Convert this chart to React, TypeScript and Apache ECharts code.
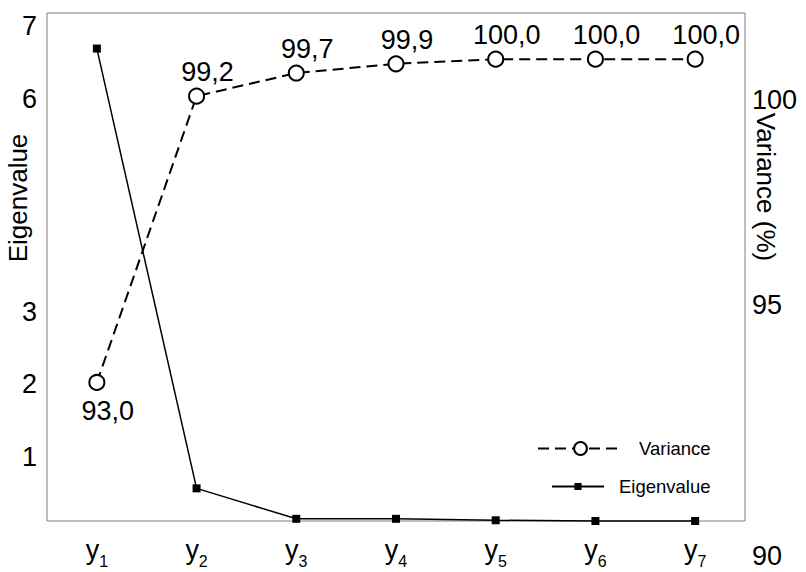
import React, { useEffect, useRef } from 'react';
import * as echarts from 'echarts';

const categories = ['y1', 'y2', 'y3', 'y4', 'y5', 'y6', 'y7'];
const varianceValues = [93.0, 99.2, 99.7, 99.9, 100.0, 100.0, 100.0];
const eigenValues = [6.51, 0.45, 0.03, 0.03, 0.01, 0.0, 0.0];
const eigenTickLabels = [1, 2, 3, 6, 7];
const varianceTickLabels = [90, 95, 100];

const FONT = "'Liberation Sans', Arial, Helvetica, sans-serif";

export default function App() {
  const ref = useRef<HTMLDivElement>(null);
  useEffect(() => {
    const chart = echarts.init(ref.current!, null, { renderer: 'svg' });
    const option: any = {
      animation: false,
      backgroundColor: '#fff',
      textStyle: { fontFamily: FONT, color: '#000' },
      grid: {
        left: 47, right: 61, top: 13, bottom: 51,
        containLabel: false,
        outerBoundsMode: 'none',
        show: true, borderColor: '#808080', borderWidth: 1,
      },
      legend: [
        {
          data: ['Variance'], left: 532, top: 434, itemWidth: 85, itemHeight: 16,
          selectedMode: false,
          textStyle: { fontSize: 18.5, color: '#000', fontFamily: FONT, padding: [0, 0, 0, 11] },
        },
        {
          data: ['Eigenvalue'], left: 546, top: 472, itemWidth: 52, itemHeight: 9,
          selectedMode: false,
          textStyle: { fontSize: 18.5, color: '#000', fontFamily: FONT, padding: [0, 0, 0, 10] },
        },
      ],
      xAxis: {
        type: 'category',
        data: categories,
        boundaryGap: true,
        axisLine: { show: false },
        axisTick: { show: false },
        axisLabel: {
          interval: 0,
          margin: 10,
          formatter: (v: string) => `{m|${v.slice(0, 1)}}{s|${v.slice(1)}}`,
          rich: {
            m: { fontSize: 27, fontFamily: FONT, color: '#000' },
            s: { fontSize: 16, fontFamily: FONT, color: '#000', padding: [22, 0, 0, 0] },
          },
        },
      },
      yAxis: [
        {
          type: 'value', min: 0, max: 7, interval: 1, position: 'left',
          name: 'Eigenvalue', nameLocation: 'middle', nameGap: 16, nameRotate: 90,
          nameMoveOverlap: false,
          nameTextStyle: { fontSize: 26, fontFamily: FONT, color: '#000', padding: [0, 0, 0, 138] },
          axisLine: { show: false }, axisTick: { show: false }, splitLine: { show: false },
          axisLabel: {
            margin: 10,
            formatter: (v: number) =>
              eigenTickLabels.includes(v) ? `{${v >= 6 ? 'h' : 'l'}|${v}}` : '',
            rich: {
              h: { fontSize: 27, fontFamily: FONT, color: '#000', padding: [26, 0, 0, 0] },
              l: { fontSize: 27, fontFamily: FONT, color: '#000', padding: [17, 0, 0, 0] },
            },
          },
        },
        {
          type: 'value', min: 90, max: 101, interval: 1, position: 'right',
          name: 'Variance (%)', nameLocation: 'middle', nameGap: 8, nameRotate: -90,
          nameMoveOverlap: false,
          nameTextStyle: { fontSize: 26, fontFamily: FONT, color: '#000', padding: [0, 160, 0, 0] },
          axisLine: { show: false }, axisTick: { show: false }, splitLine: { show: false },
          axisLabel: {
            margin: 7,
            formatter: (v: number) =>
              varianceTickLabels.includes(v) ? `{r${v}|${v}}` : '',
            rich: {
              r100: { fontSize: 27, fontFamily: FONT, color: '#000', padding: [82, 0, 0, 0] },
              r95: { fontSize: 27, fontFamily: FONT, color: '#000', padding: [30, 0, 0, 0] },
              r90: { fontSize: 27, fontFamily: FONT, color: '#000', padding: [70, 0, 0, 0] },
            },
          },
        },
      ],
      series: [
        {
          name: 'Variance',
          type: 'line',
          yAxisIndex: 1,
          clip: false,
          z: 3,
          data: varianceValues.map((v, i) =>
            i === 0 ? { value: v, label: { position: 'bottom', distance: 7 } } : v
          ),
          symbol: 'circle',
          symbolSize: 15,
          itemStyle: { color: '#fff', borderColor: '#000', borderWidth: 2 },
          lineStyle: { color: '#000', width: 2, type: [11, 6] },
          label: {
            show: true,
            position: 'top',
            distance: 2,
            offset: [11, 0],
            fontSize: 27,
            fontFamily: FONT,
            color: '#000',
            formatter: (p: any) => Number(p.value).toFixed(1).replace('.', ','),
          },
        },
        {
          name: 'Eigenvalue',
          type: 'line',
          yAxisIndex: 0,
          clip: false,
          z: 2,
          data: eigenValues,
          symbol: 'rect',
          symbolSize: 8,
          itemStyle: { color: '#000' },
          lineStyle: { color: '#000', width: 1.5 },
        },
      ],
    };
    chart.setOption(option);
    return () => chart.dispose();
  }, []);
  return (
    <div
      ref={ref}
      style={{ position: 'fixed', left: 0, top: 0, width: 806, height: 572, background: '#fff' }}
    />
  );
}
